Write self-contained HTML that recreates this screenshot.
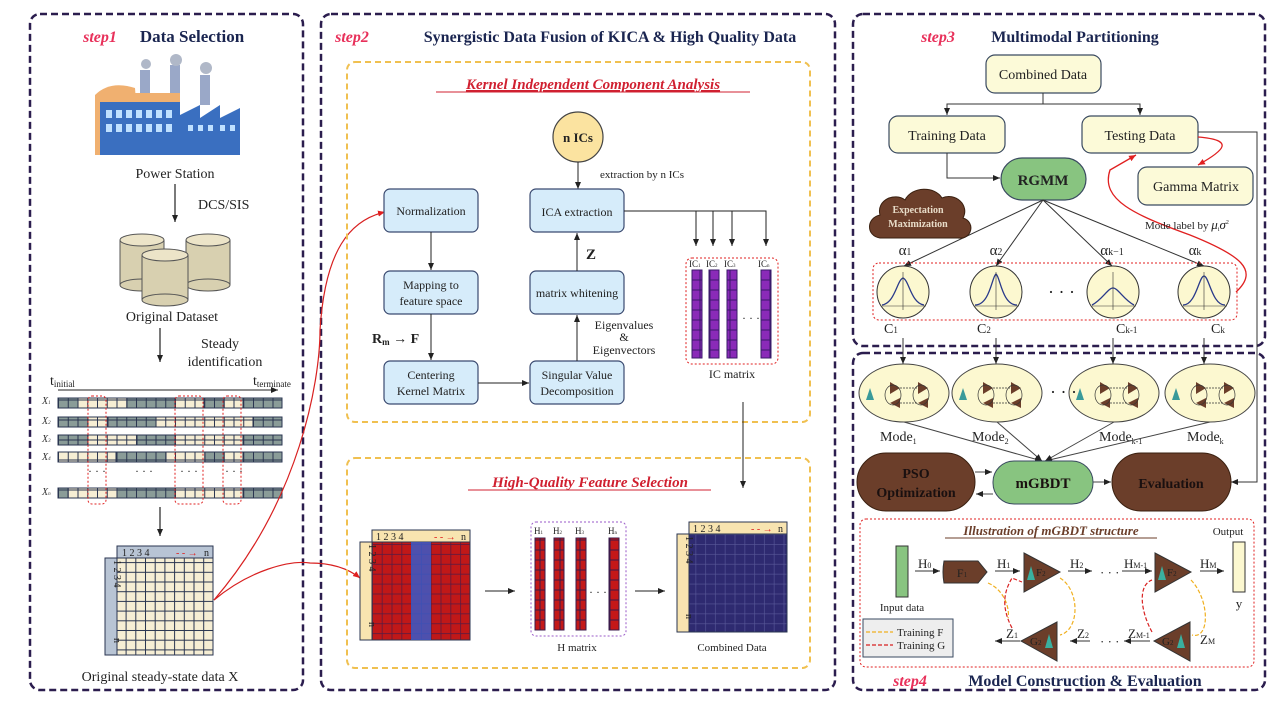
<!DOCTYPE html>
<html><head><meta charset="utf-8">
<style>
html,body{margin:0;padding:0;background:#fff;}
svg{display:block;font-family:"Liberation Serif",serif;}
</style></head>
<body>
<svg width="1280" height="709" viewBox="0 0 1280 709" xmlns="http://www.w3.org/2000/svg">
<defs>
<marker id="ah" markerWidth="8" markerHeight="8" refX="7" refY="4" orient="auto" markerUnits="userSpaceOnUse"><path d="M0,1 L7,4 L0,7 z" fill="#222"/></marker>
<marker id="ahr" markerWidth="8" markerHeight="8" refX="7" refY="4" orient="auto" markerUnits="userSpaceOnUse"><path d="M0,1 L7,4 L0,7 z" fill="#e02020"/></marker>
<pattern id="cream" width="9.7" height="9.7" patternUnits="userSpaceOnUse"><rect width="9.7" height="9.7" fill="#f6eed4" stroke="#2a3550" stroke-width="1"/></pattern>
<pattern id="gray" width="9.75" height="10" patternUnits="userSpaceOnUse"><rect width="9.75" height="10" fill="#8a9c98" stroke="#2a3550" stroke-width="1"/></pattern>
<pattern id="creamr" width="9.75" height="10" patternUnits="userSpaceOnUse"><rect width="9.75" height="10" fill="#f6eed4" stroke="#2a3550" stroke-width="1"/></pattern>
<pattern id="redg" width="9.8" height="9.9" patternUnits="userSpaceOnUse"><rect width="9.8" height="9.9" fill="#c01818" stroke="#5a1a40" stroke-width="0.8"/></pattern>
<pattern id="navy" width="9.8" height="9.9" patternUnits="userSpaceOnUse"><rect width="9.8" height="9.9" fill="#2e2a70" stroke="#5a5a9a" stroke-width="0.6"/></pattern>
<pattern id="purp" width="10" height="10" patternUnits="userSpaceOnUse"><rect width="10" height="10" fill="#8a2ab8" stroke="#3a1a6a" stroke-width="1"/></pattern>
<pattern id="redbar" width="10" height="10" patternUnits="userSpaceOnUse"><rect width="10" height="10" fill="#c41818" stroke="#3a1a4a" stroke-width="1"/></pattern>
</defs>

<!-- panels -->
<g fill="none" stroke="#2b1d4e" stroke-width="2.5" stroke-dasharray="7,4">
<rect x="30" y="14" width="273" height="676" rx="10"/>
<rect x="321" y="14" width="514" height="676" rx="10"/>
<rect x="853" y="14" width="412" height="332" rx="10"/>
<rect x="853" y="353" width="412" height="337" rx="10"/>
</g>

<!-- ===== PANEL 1 ===== -->
<text x="100" y="42" fill="#e8305a" font-style="italic" font-weight="bold" font-size="16" text-anchor="middle">step1</text>
<text x="192" y="42" fill="#1a2550" font-weight="bold" font-size="17" text-anchor="middle">Data Selection</text>
<!-- factory -->
<g>
<rect x="140" y="70" width="10" height="30" fill="#9aa8c8"/>
<rect x="170" y="65" width="10" height="35" fill="#9aa8c8"/>
<circle cx="176" cy="60" r="6" fill="#b0b8c8"/><circle cx="146" cy="64" r="5" fill="#b0b8c8"/>
<rect x="200" y="75" width="10" height="30" fill="#9aa8c8"/><circle cx="206" cy="68" r="6" fill="#b0b8c8"/>
<path d="M95,95 Q110,80 135,88 L140,155 L95,155 z" fill="#f0b070"/>
<rect x="100" y="100" width="80" height="55" fill="#3a6fc0"/>
<rect x="100" y="93" width="80" height="9" fill="#f0b070"/>
<g fill="#bfe0ff"><rect x="106" y="110" width="6" height="8"/><rect x="116" y="110" width="6" height="8"/><rect x="126" y="110" width="6" height="8"/><rect x="136" y="110" width="6" height="8"/><rect x="146" y="110" width="6" height="8"/><rect x="156" y="110" width="6" height="8"/><rect x="166" y="110" width="6" height="8"/>
<rect x="106" y="124" width="6" height="8"/><rect x="116" y="124" width="6" height="8"/><rect x="126" y="124" width="6" height="8"/><rect x="136" y="124" width="6" height="8"/><rect x="146" y="124" width="6" height="8"/><rect x="156" y="124" width="6" height="8"/><rect x="166" y="124" width="6" height="8"/></g>
<path d="M180,155 L180,115 L200,105 L200,118 L220,105 L220,118 L240,108 L240,155 z" fill="#3a6fc0"/>
<g fill="#bfe0ff"><rect x="188" y="125" width="5" height="6"/><rect x="198" y="125" width="5" height="6"/><rect x="208" y="125" width="5" height="6"/><rect x="220" y="125" width="5" height="6"/><rect x="230" y="125" width="5" height="6"/></g>
</g>
<text x="175" y="178" font-size="14" text-anchor="middle" fill="#222">Power Station</text>
<line x1="175" y1="184" x2="175" y2="222" stroke="#222" stroke-width="1.2" marker-end="url(#ah)"/>
<text x="198" y="209" font-size="14" fill="#222">DCS/SIS</text>
<!-- database -->
<g stroke="#555" stroke-width="1" fill="#d8d0b0">
<rect x="120" y="240" width="44" height="45"/><ellipse cx="142" cy="285" rx="22" ry="6"/><ellipse cx="142" cy="240" rx="22" ry="6" fill="#ece4c8"/>
<rect x="186" y="240" width="44" height="45"/><ellipse cx="208" cy="285" rx="22" ry="6"/><ellipse cx="208" cy="240" rx="22" ry="6" fill="#ece4c8"/>
<rect x="142" y="255" width="46" height="45"/><ellipse cx="165" cy="300" rx="23" ry="6"/><ellipse cx="165" cy="255" rx="23" ry="6" fill="#ece4c8"/>
</g>
<text x="172" y="321" font-size="14" text-anchor="middle" fill="#222">Original Dataset</text>
<line x1="160" y1="328" x2="160" y2="362" stroke="#222" stroke-width="1.2" marker-end="url(#ah)"/>
<text x="220" y="348" font-size="14" text-anchor="middle" fill="#222">Steady</text>
<text x="225" y="366" font-size="14" text-anchor="middle" fill="#222">identification</text>
<text x="50" y="385" font-size="14" fill="#222">t<tspan font-size="9" dy="2">initial</tspan></text>
<text x="253" y="385" font-size="14" fill="#222">t<tspan font-size="9" dy="2">terminate</tspan></text>
<line x1="58" y1="390" x2="278" y2="390" stroke="#222" stroke-width="1" marker-end="url(#ah)"/>
<!-- rows -->
<g font-size="10" font-style="italic" fill="#333">
<text x="42" y="404">X<tspan font-size="5">1</tspan></text><text x="42" y="424">X<tspan font-size="5">2</tspan></text><text x="42" y="442">X<tspan font-size="5">3</tspan></text><text x="42" y="460">X<tspan font-size="5">4</tspan></text><text x="42" y="495">X<tspan font-size="5">n</tspan></text>
</g>
<g stroke="#2a3550" stroke-width="1">
<rect x="58" y="398" width="224" height="10" fill="url(#gray)"/>
<rect x="78" y="398" width="49" height="10" fill="url(#creamr)"/><rect x="175" y="398" width="29" height="10" fill="url(#creamr)"/><rect x="224" y="398" width="19" height="10" fill="url(#creamr)"/>
<rect x="58" y="417" width="224" height="10" fill="url(#gray)"/>
<rect x="88" y="417" width="20" height="10" fill="url(#creamr)"/><rect x="156" y="417" width="97" height="10" fill="url(#creamr)"/>
<rect x="58" y="435" width="224" height="10" fill="url(#gray)"/>
<rect x="88" y="435" width="49" height="10" fill="url(#creamr)"/><rect x="175" y="435" width="68" height="10" fill="url(#creamr)"/>
<rect x="58" y="452" width="224" height="10" fill="url(#gray)"/>
<rect x="58" y="452" width="58" height="10" fill="url(#creamr)"/><rect x="166" y="452" width="39" height="10" fill="url(#creamr)"/><rect x="224" y="452" width="19" height="10" fill="url(#creamr)"/>
<rect x="58" y="488" width="224" height="10" fill="url(#gray)"/>
<rect x="68" y="488" width="49" height="10" fill="url(#creamr)"/><rect x="175" y="488" width="68" height="10" fill="url(#creamr)"/>
</g>
<g font-size="12" fill="#222"><text x="88" y="475">· · ·</text><text x="135" y="475">· · ·</text><text x="180" y="475">· · ·</text><text x="225" y="475">· · ·</text></g>
<g fill="none" stroke="#e02020" stroke-width="1" stroke-dasharray="2,2">
<rect x="88" y="396" width="18" height="108" rx="4"/><rect x="175" y="396" width="28" height="108" rx="4"/><rect x="223" y="396" width="18" height="108" rx="4"/>
</g>
<line x1="160" y1="507" x2="160" y2="536" stroke="#222" stroke-width="1.2" marker-end="url(#ah)"/>
<!-- matrix X -->
<rect x="117" y="546" width="96" height="12" fill="#b8c4d4" stroke="#2a3550"/>
<rect x="105" y="558" width="12" height="97" fill="#b8c4d4" stroke="#2a3550"/>
<rect x="117" y="558" width="96" height="97" fill="url(#cream)" stroke="#2a3550"/>
<text x="122" y="556" font-size="10" fill="#222">1  2  3  4</text>
<text x="176" y="556" font-size="10" fill="#e02020">- - →</text><text x="204" y="556" font-size="10" fill="#222">n</text>
<g font-size="10" fill="#222" transform="translate(114,560) rotate(90)"><text x="0" y="0">1  2  3  4</text><text x="78" y="0">n</text></g>
<text x="160" y="681" font-size="14" text-anchor="middle" fill="#222">Original steady-state data X</text>
<!-- red curves -->
<path d="M214,600 C300,500 320,380 320,330 C325,250 350,220 385,212" fill="none" stroke="#d82020" stroke-width="1.2" marker-end="url(#ahr)"/>
<path d="M214,600 C250,570 290,560 310,563 C335,563 350,570 360,578" fill="none" stroke="#d82020" stroke-width="1.2" marker-end="url(#ahr)"/>

<!-- ===== PANEL 2 ===== -->
<text x="352" y="42" fill="#e8305a" font-style="italic" font-weight="bold" font-size="16" text-anchor="middle">step2</text>
<text x="610" y="42" fill="#1a2550" font-weight="bold" font-size="16" text-anchor="middle">Synergistic Data Fusion of KICA &amp; High Quality Data</text>
<rect x="347" y="62" width="463" height="360" rx="8" fill="none" stroke="#f0c050" stroke-width="2" stroke-dasharray="6,4"/>
<text x="593" y="89" fill="#d02030" font-style="italic" font-weight="bold" font-size="15" text-anchor="middle" text-decoration="underline">Kernel Independent Component Analysis</text>
<line x1="436" y1="92" x2="750" y2="92" stroke="#d02030" stroke-width="1"/>
<circle cx="578" cy="137" r="25" fill="#fbe3a0" stroke="#444" stroke-width="1.2"/>
<text x="578" y="142" font-size="13" font-weight="bold" text-anchor="middle" fill="#222">n  ICs</text>
<line x1="578" y1="162" x2="578" y2="189" stroke="#222" stroke-width="1" marker-end="url(#ah)"/>
<text x="600" y="178" font-size="11" fill="#222">extraction by n ICs</text>
<g fill="#d6ecfa" stroke="#3a4a70" stroke-width="1.2">
<rect x="384" y="189" width="94" height="43" rx="6"/>
<rect x="384" y="271" width="94" height="43" rx="6"/>
<rect x="384" y="361" width="94" height="43" rx="6"/>
<rect x="530" y="189" width="94" height="43" rx="6"/>
<rect x="530" y="271" width="94" height="43" rx="6"/>
<rect x="530" y="361" width="94" height="43" rx="6"/>
</g>
<g font-size="12" text-anchor="middle" fill="#222">
<text x="431" y="215">Normalization</text>
<text x="431" y="289">Mapping to</text><text x="431" y="305">feature space</text>
<text x="431" y="379">Centering</text><text x="431" y="395">Kernel Matrix</text>
<text x="577" y="216">ICA extraction</text>
<text x="577" y="297">matrix whitening</text>
<text x="577" y="379">Singular Value</text><text x="577" y="395">Decomposition</text>
<text x="624" y="329">Eigenvalues</text><text x="624" y="341">&amp;</text><text x="624" y="354">Eigenvectors</text>
</g>
<text x="372" y="343" font-size="14" font-weight="bold" fill="#222">R<tspan font-size="9" dy="2">m</tspan><tspan dy="-2"> → F</tspan></text>
<text x="586" y="259" font-size="15" font-weight="bold" fill="#222">Z</text>
<g stroke="#222" stroke-width="1" fill="none">
<line x1="431" y1="232" x2="431" y2="270" marker-end="url(#ah)"/>
<line x1="431" y1="314" x2="431" y2="360" marker-end="url(#ah)"/>
<line x1="478" y1="383" x2="529" y2="383" marker-end="url(#ah)"/>
<line x1="577" y1="361" x2="577" y2="315" marker-end="url(#ah)"/>
<line x1="577" y1="271" x2="577" y2="233" marker-end="url(#ah)"/>
<polyline points="624,211 766,211 766,246" marker-end="url(#ah)"/>
<line x1="696" y1="211" x2="696" y2="246" marker-end="url(#ah)"/>
<line x1="713" y1="211" x2="713" y2="246" marker-end="url(#ah)"/>
<line x1="732" y1="211" x2="732" y2="246" marker-end="url(#ah)"/>
<line x1="743" y1="402" x2="743" y2="488" marker-end="url(#ah)"/>
</g>
<rect x="686" y="258" width="92" height="106" rx="6" fill="none" stroke="#e02020" stroke-width="1" stroke-dasharray="2,2"/>
<g font-size="9" fill="#222"><text x="689" y="267">IC<tspan font-size="5">1</tspan></text><text x="706" y="267">IC<tspan font-size="5">2</tspan></text><text x="724" y="267">IC<tspan font-size="5">3</tspan></text><text x="758" y="267">IC<tspan font-size="5">n</tspan></text></g>
<g stroke="#3a1a6a"><rect x="692" y="270" width="10" height="88" fill="url(#purp)"/><rect x="709" y="270" width="10" height="88" fill="url(#purp)"/><rect x="727" y="270" width="10" height="88" fill="url(#purp)"/><rect x="761" y="270" width="10" height="88" fill="url(#purp)"/></g>
<text x="742" y="322" font-size="12" fill="#222">· · ·</text>
<text x="732" y="378" font-size="12" text-anchor="middle" fill="#222">IC matrix</text>

<rect x="347" y="458" width="463" height="210" rx="8" fill="none" stroke="#f0c050" stroke-width="2" stroke-dasharray="6,4"/>
<text x="590" y="487" fill="#d02030" font-style="italic" font-weight="bold" font-size="15" text-anchor="middle">High-Quality Feature Selection</text>
<line x1="468" y1="490" x2="711" y2="490" stroke="#d02030" stroke-width="1"/>
<!-- colored matrix -->
<rect x="372" y="530" width="98" height="12" fill="#f8e4b0" stroke="#2a3550"/>
<rect x="360" y="542" width="12" height="98" fill="#f8e4b0" stroke="#2a3550"/>
<rect x="372" y="542" width="98" height="98" fill="url(#redg)" stroke="#2a3550"/>
<rect x="411" y="542" width="20" height="98" fill="#3a5ac8" opacity="0.85"/>
<text x="376" y="540" font-size="10" fill="#222">1  2  3  4</text><text x="434" y="540" font-size="10" fill="#e02020">- - →</text><text x="461" y="540" font-size="10" fill="#222">n</text>
<g font-size="10" fill="#222" transform="translate(369,544) rotate(90)"><text x="0" y="0">1  2  3  4</text><text x="78" y="0">n</text></g>
<line x1="485" y1="591" x2="515" y2="591" stroke="#222" stroke-width="1" marker-end="url(#ah)"/>
<rect x="531" y="522" width="95" height="114" rx="5" fill="none" stroke="#9a5ac8" stroke-width="1" stroke-dasharray="2,2"/>
<g font-size="9" fill="#222"><text x="534" y="534">H<tspan font-size="5">1</tspan></text><text x="553" y="534">H<tspan font-size="5">2</tspan></text><text x="575" y="534">H<tspan font-size="5">3</tspan></text><text x="608" y="534">H<tspan font-size="5">n</tspan></text></g>
<g stroke="#3a1a4a"><rect x="535" y="538" width="10" height="92" fill="url(#redbar)"/><rect x="554" y="538" width="10" height="92" fill="url(#redbar)"/><rect x="576" y="538" width="10" height="92" fill="url(#redbar)"/><rect x="609" y="538" width="10" height="92" fill="url(#redbar)"/></g>
<text x="589" y="596" font-size="12" fill="#222">· · ·</text>
<text x="577" y="651" font-size="11" text-anchor="middle" fill="#222">H matrix</text>
<line x1="635" y1="591" x2="665" y2="591" stroke="#222" stroke-width="1" marker-end="url(#ah)"/>
<rect x="689" y="522" width="98" height="12" fill="#f8e4b0" stroke="#2a3550"/>
<rect x="677" y="534" width="12" height="98" fill="#f8e4b0" stroke="#2a3550"/>
<rect x="689" y="534" width="98" height="98" fill="url(#navy)" stroke="#2a3550"/>
<text x="693" y="532" font-size="10" fill="#222">1  2  3  4</text><text x="751" y="532" font-size="10" fill="#e02020">- - →</text><text x="778" y="532" font-size="10" fill="#222">n</text>
<g font-size="10" fill="#222" transform="translate(686,536) rotate(90)"><text x="0" y="0">1  2  3  4</text><text x="78" y="0">n</text></g>
<text x="732" y="651" font-size="11" text-anchor="middle" fill="#222">Combined Data</text>

<!-- ===== PANEL 3 ===== -->
<text x="938" y="42" fill="#e8305a" font-style="italic" font-weight="bold" font-size="16" text-anchor="middle">step3</text>
<text x="1075" y="42" fill="#1a2550" font-weight="bold" font-size="16" text-anchor="middle">Multimodal  Partitioning</text>
<g fill="#fcfad8" stroke="#3a4a60" stroke-width="1.2">
<rect x="986" y="55" width="115" height="38" rx="9"/>
<rect x="889" y="116" width="116" height="37" rx="9"/>
<rect x="1082" y="116" width="116" height="37" rx="9"/>
<rect x="1138" y="167" width="115" height="38" rx="9"/>
</g>
<g font-size="14" text-anchor="middle" fill="#222">
<text x="1043" y="79">Combined Data</text>
<text x="947" y="140">Training Data</text>
<text x="1140" y="140">Testing Data</text>
<text x="1196" y="191">Gamma Matrix</text>
</g>
<rect x="1001" y="158" width="85" height="42" rx="21" fill="#88c480" stroke="#3a4a60" stroke-width="1.2"/>
<text x="1043" y="185" font-size="15" font-weight="bold" text-anchor="middle" fill="#222">RGMM</text>
<g stroke="#333" stroke-width="1" fill="none">
<polyline points="1043,93 1043,104 947,104 947,115" marker-end="url(#ah)"/>
<polyline points="1043,104 1140,104 1140,115" marker-end="url(#ah)"/>
<polyline points="947,153 947,178 1000,178" marker-end="url(#ah)"/>
<polyline points="1198,132 1257,132 1257,482 1231,482" marker-end="url(#ah)"/>
<line x1="1043" y1="200" x2="904" y2="266" marker-end="url(#ah)"/>
<line x1="1043" y1="200" x2="996" y2="266" marker-end="url(#ah)"/>
<line x1="1043" y1="200" x2="1112" y2="266" marker-end="url(#ah)"/>
<line x1="1043" y1="200" x2="1204" y2="266" marker-end="url(#ah)"/>
</g>
<path d="M1198,137 C1235,140 1225,150 1198,165" fill="none" stroke="#e02020" stroke-width="1.3" marker-end="url(#ahr)"/>
<path d="M1236,292 C1260,270 1240,255 1190,235 C1135,215 1100,200 1110,170 L1136,155" fill="none" stroke="#e02020" stroke-width="1.3" marker-end="url(#ahr)"/>
<text x="1145" y="229" font-size="11" fill="#222">Mode label by <tspan font-style="italic" font-size="13">μ</tspan><tspan font-size="6" dy="2">i</tspan><tspan font-style="italic" font-size="13" dy="-2">σ</tspan><tspan font-size="6" dy="-5">2</tspan></text>
<!-- cloud -->
<path d="M880,238 C866,236 866,218 880,215 C876,200 895,192 905,200 C912,186 935,186 942,198 C955,192 970,205 963,218 C976,222 972,240 958,238 Z" fill="#6b3e2a" stroke="#3a2010"/>
<text x="918" y="213" font-size="10" font-weight="bold" text-anchor="middle" fill="#e8dcc8">Expectation</text>
<text x="918" y="227" font-size="10" font-weight="bold" text-anchor="middle" fill="#e8dcc8">Maximization</text>
<g font-size="15" fill="#222" text-anchor="middle"><text x="905" y="255">α<tspan font-size="10">1</tspan></text><text x="996" y="255">α<tspan font-size="10">2</tspan></text><text x="1112" y="255">α<tspan font-size="10">k−1</tspan></text><text x="1195" y="255">α<tspan font-size="10">k</tspan></text></g>
<rect x="873" y="263" width="364" height="57" rx="6" fill="none" stroke="#e02020" stroke-width="1" stroke-dasharray="2,2"/>
<g stroke="#333" stroke-width="1">
<circle cx="903" cy="292" r="26" fill="#fcf8d0"/><circle cx="996" cy="292" r="26" fill="#fcf8d0"/><circle cx="1113" cy="292" r="26" fill="#fcf8d0"/><circle cx="1204" cy="292" r="26" fill="#fcf8d0"/>
</g>
<g fill="none" stroke="#2a3a8a" stroke-width="1.3">
<path d="M882,305 C895,303 897,280 903,278 C909,280 911,303 924,305"/>
<path d="M975,305 C990,305 992,276 996,274 C1000,276 1002,305 1017,305"/>
<path d="M1092,305 C1102,300 1108,288 1113,288 C1118,288 1124,300 1134,305"/>
<path d="M1183,305 C1196,305 1199,276 1204,276 C1209,276 1212,305 1225,305"/>
</g>
<g stroke="#333" stroke-width="0.6"><line x1="882" y1="306" x2="926" y2="306"/><line x1="903" y1="272" x2="903" y2="310"/><line x1="975" y1="306" x2="1019" y2="306"/><line x1="996" y1="272" x2="996" y2="310"/><line x1="1092" y1="306" x2="1136" y2="306"/><line x1="1113" y1="272" x2="1113" y2="310"/><line x1="1183" y1="306" x2="1227" y2="306"/><line x1="1204" y1="272" x2="1204" y2="310"/></g>
<text x="1048" y="298" font-size="18" fill="#222">· · ·</text>
<g font-size="14" fill="#222"><text x="884" y="333">C<tspan font-size="9">1</tspan></text><text x="977" y="333">C<tspan font-size="9">2</tspan></text><text x="1116" y="333">C<tspan font-size="9">k-1</tspan></text><text x="1211" y="333">C<tspan font-size="9">k</tspan></text></g>
<g stroke="#333" stroke-width="1"><line x1="903" y1="338" x2="903" y2="364" marker-end="url(#ah)"/><line x1="996" y1="338" x2="996" y2="364" marker-end="url(#ah)"/><line x1="1113" y1="338" x2="1113" y2="364" marker-end="url(#ah)"/><line x1="1204" y1="338" x2="1204" y2="364" marker-end="url(#ah)"/></g>

<!-- ===== PANEL 4 ===== -->
<g stroke="#444" stroke-width="1" fill="#fcf8d0">
<ellipse cx="904" cy="393" rx="45" ry="29"/><ellipse cx="997" cy="393" rx="45" ry="29"/><ellipse cx="1114" cy="393" rx="45" ry="29"/><ellipse cx="1210" cy="393" rx="45" ry="29"/>
</g>
<g id="modeInner">
<g fill="#6b3e2a"><path d="M890,382 L900,388 L890,394 z"/><path d="M918,382 L928,388 L918,394 z"/><path d="M900,398 L890,403 L900,408 z"/><path d="M928,398 L918,403 L928,408 z"/></g>
<g fill="none" stroke="#333" stroke-width="0.7"><ellipse cx="893" cy="395" rx="8" ry="10"/><ellipse cx="921" cy="395" rx="8" ry="10"/><line x1="900" y1="388" x2="918" y2="388" stroke-dasharray="2,1"/><line x1="900" y1="403" x2="918" y2="403" stroke-dasharray="2,1"/></g>
<path d="M866,400 L870,388 L874,400 z" fill="#3a9a9a"/>
</g>
<use href="#modeInner" x="93"/><use href="#modeInner" x="210"/><use href="#modeInner" x="306"/>
<text x="1050" y="398" font-size="18" fill="#222">· · ·</text>
<g font-size="14" fill="#222"><text x="880" y="441">Mode<tspan font-size="8" dy="3">1</tspan></text><text x="972" y="441">Mode<tspan font-size="8" dy="3">2</tspan></text><text x="1099" y="441">Mode<tspan font-size="8" dy="3">k-1</tspan></text><text x="1187" y="441">Mode<tspan font-size="8" dy="3">k</tspan></text></g>
<g stroke="#444" stroke-width="1" fill="none">
<line x1="904" y1="422" x2="1042" y2="461" marker-end="url(#ah)"/>
<line x1="997" y1="422" x2="1042" y2="461" marker-end="url(#ah)"/>
<line x1="1114" y1="422" x2="1045" y2="461" marker-end="url(#ah)"/>
<line x1="1210" y1="422" x2="1045" y2="461" marker-end="url(#ah)"/>
<line x1="975" y1="472" x2="992" y2="472" marker-end="url(#ah)"/>
<line x1="993" y1="494" x2="976" y2="494" marker-end="url(#ah)"/>
<line x1="1093" y1="482" x2="1111" y2="482" marker-end="url(#ah)"/>
</g>
<rect x="857" y="453" width="118" height="58" rx="29" fill="#6b3e2a" stroke="#3a2010"/>
<text x="916" y="478" font-size="14" font-weight="bold" text-anchor="middle" fill="#1a1010">PSO</text>
<text x="916" y="497" font-size="14" font-weight="bold" text-anchor="middle" fill="#1a1010">Optimization</text>
<rect x="993" y="461" width="100" height="43" rx="21" fill="#88c480" stroke="#3a4a60"/>
<text x="1043" y="488" font-size="15" font-weight="bold" text-anchor="middle" fill="#1a1010">mGBDT</text>
<rect x="1112" y="453" width="119" height="58" rx="29" fill="#6b3e2a" stroke="#3a2010"/>
<text x="1171" y="488" font-size="14" font-weight="bold" text-anchor="middle" fill="#1a1010">Evaluation</text>

<rect x="860" y="519" width="394" height="148" rx="6" fill="none" stroke="#e02020" stroke-width="1" stroke-dasharray="2,2"/>
<text x="1051" y="535" font-size="13" font-weight="bold" font-style="italic" text-anchor="middle" fill="#6b3e2a">Illustration of mGBDT structure</text>
<line x1="945" y1="538" x2="1157" y2="538" stroke="#6b3e2a" stroke-width="1"/>
<text x="1228" y="535" font-size="11" text-anchor="middle" fill="#222">Output</text>
<rect x="896" y="546" width="12" height="51" fill="#88c480" stroke="#333"/>
<text x="902" y="611" font-size="11" text-anchor="middle" fill="#222">Input data</text>
<rect x="1233" y="542" width="12" height="50" fill="#fcf8d0" stroke="#333"/>
<text x="1239" y="608" font-size="13" text-anchor="middle" fill="#222">y</text>
<path d="M944,561 L978,561 L987,572 L978,583 L944,583 Q942,572 944,561 z" fill="#6b3e2a" stroke="#333"/>
<text x="962" y="577" font-size="12" text-anchor="middle" fill="#222">F<tspan font-size="7">1</tspan></text>
<path d="M1024,553 L1060,572 L1024,592 z" fill="#6b3e2a" stroke="#333"/>
<path d="M1155,553 L1191,572 L1155,592 z" fill="#6b3e2a" stroke="#333"/>
<path d="M1057,622 L1021,641 L1057,661 z" fill="#6b3e2a" stroke="#333"/>
<path d="M1190,622 L1154,641 L1190,661 z" fill="#6b3e2a" stroke="#333"/>
<g fill="#3ab0a0"><path d="M1027,580 L1031,566 L1035,580 z"/><path d="M1158,580 L1162,566 L1166,580 z"/><path d="M1045,648 L1049,634 L1053,648 z"/><path d="M1177,648 L1181,634 L1185,648 z"/></g>
<g font-size="11" fill="#222"><text x="1036" y="576">F<tspan font-size="7">2</tspan></text><text x="1167" y="576">F<tspan font-size="7">2</tspan></text><text x="1030" y="645">G<tspan font-size="7">2</tspan></text><text x="1162" y="645">G<tspan font-size="7">2</tspan></text></g>
<g font-size="13" fill="#222"><text x="918" y="568">H<tspan font-size="8">0</tspan></text><text x="997" y="568">H<tspan font-size="8">1</tspan></text><text x="1070" y="568">H<tspan font-size="8">2</tspan></text><text x="1124" y="568">H<tspan font-size="8">M-1</tspan></text><text x="1200" y="568">H<tspan font-size="8">M</tspan></text>
<text x="1006" y="638">Z<tspan font-size="8">1</tspan></text><text x="1077" y="638">Z<tspan font-size="8">2</tspan></text><text x="1128" y="638">Z<tspan font-size="8">M-1</tspan></text><text x="1200" y="644">Z<tspan font-size="8">M</tspan></text></g>
<g font-size="13" fill="#222"><text x="1100" y="577">· · ·</text><text x="1100" y="646">· · ·</text></g>
<g stroke="#333" stroke-width="1">
<line x1="915" y1="571" x2="940" y2="571" marker-end="url(#ah)"/>
<line x1="995" y1="571" x2="1020" y2="571" marker-end="url(#ah)"/>
<line x1="1068" y1="571" x2="1092" y2="571" marker-end="url(#ah)"/>
<line x1="1122" y1="571" x2="1152" y2="571" marker-end="url(#ah)"/>
<line x1="1200" y1="571" x2="1224" y2="571" marker-end="url(#ah)"/>
<line x1="1020" y1="641" x2="995" y2="641" marker-end="url(#ah)"/>
<line x1="1090" y1="641" x2="1070" y2="641" marker-end="url(#ah)"/>
<line x1="1150" y1="641" x2="1124" y2="641" marker-end="url(#ah)"/>
</g>
<g fill="none" stroke-width="1.2" stroke-dasharray="4,2">
<path d="M988,583 C1005,590 1010,610 1008,618" stroke="#f0b020"/>
<path d="M1012,628 C1000,605 1005,590 1012,578 L1022,582" stroke="#d82020"/>
<path d="M1060,578 C1080,590 1080,630 1060,635" stroke="#f0b020"/>
<path d="M1152,632 C1140,610 1138,585 1152,580" stroke="#d82020"/>
<path d="M1191,580 C1210,600 1210,640 1192,635" stroke="#f0b020"/>
</g>
<rect x="863" y="619" width="90" height="38" fill="#eeeeee" stroke="#3a4a60"/>
<line x1="866" y1="632" x2="893" y2="632" stroke="#f0b020" stroke-width="1.2" stroke-dasharray="4,2"/>
<line x1="866" y1="645" x2="893" y2="645" stroke="#d82020" stroke-width="1.2" stroke-dasharray="4,2"/>
<text x="897" y="636" font-size="11" fill="#222">Training F</text>
<text x="897" y="649" font-size="11" fill="#222">Training G</text>
<text x="910" y="686" fill="#e8305a" font-style="italic" font-weight="bold" font-size="16" text-anchor="middle">step4</text>
<text x="1085" y="686" fill="#1a2550" font-weight="bold" font-size="16" text-anchor="middle">Model Construction &amp; Evaluation</text>
</svg>
</body></html>
